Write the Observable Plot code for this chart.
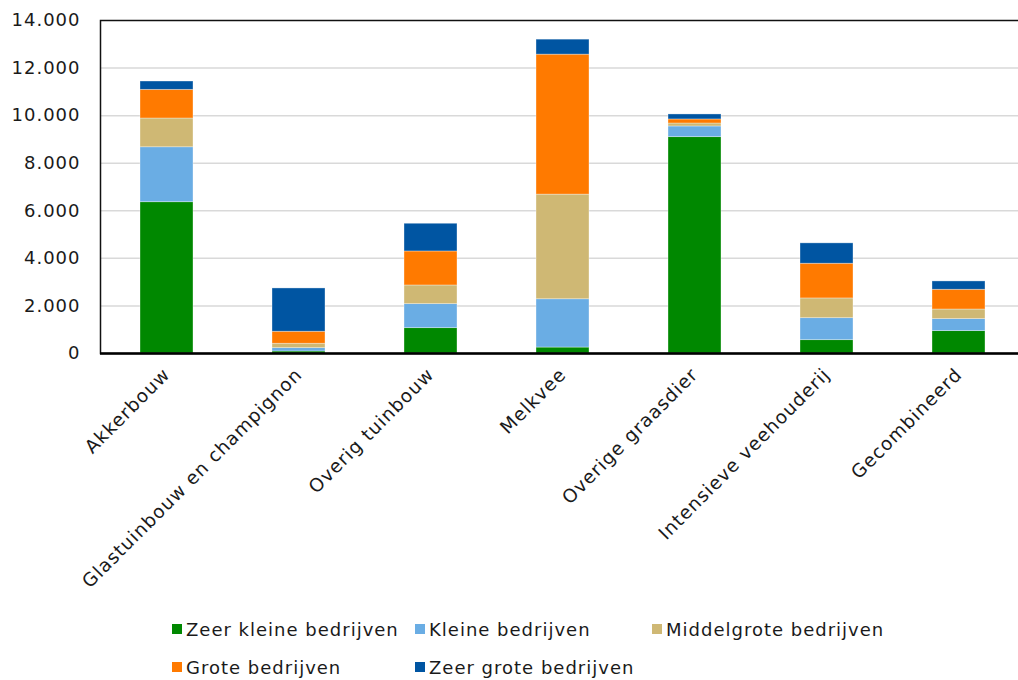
<!DOCTYPE html>
<html>
<head>
<meta charset="utf-8">
<script src="https://cdn.jsdelivr.net/npm/d3@7"></script>
<script src="https://cdn.jsdelivr.net/npm/@observablehq/plot@0.6"></script>
<style>
  html, body { margin: 0; padding: 0; background: #fff; overflow: hidden; width: 1018px; height: 680px; }
  #chart { position: absolute; left: 0; top: 0; width: 1024px; }
  #chart svg { max-width: none !important; width: 1024px !important; height: 600px !important; }
  #legend { position: absolute; left: 172px; top: 618px; display: grid;
    grid-template-columns: 243px 237px 240px; row-gap: 16px;
    font-family: "DejaVu Sans", Verdana, sans-serif; font-size: 18px; letter-spacing: 1px; color: #1a1a1a; }
  .item { display: flex; align-items: center; white-space: nowrap; height: 22px; }
  .sw { width: 10px; height: 10px; margin-right: 4px; flex: none; }
</style>
</head>
<body>
<div id="chart"></div>
<div id="legend"></div>
<script>
const categories = ["Akkerbouw", "Glastuinbouw en champignon", "Overig tuinbouw", "Melkvee", "Overige graasdier", "Intensieve veehouderij", "Gecombineerd"];
const seriesNames = ["Zeer kleine bedrijven", "Kleine bedrijven", "Middelgrote bedrijven", "Grote bedrijven", "Zeer grote bedrijven"];
const seriesColors = ["#008800", "#6aade4", "#cfb874", "#ff7a00", "#0055a2"];
const zeerKlein = [6360, 85, 1065, 250, 9095, 560, 940];
const klein = [2310, 140, 1010, 2030, 450, 925, 505];
const middelgroot = [1210, 185, 785, 4400, 125, 830, 405];
const groot = [1205, 505, 1430, 5885, 170, 1460, 830];
const zeerGroot = [350, 1820, 1165, 630, 210, 855, 350];
const yTicks = [0, 2000, 4000, 6000, 8000, 10000, 12000, 14000];

const seriesValues = [zeerKlein, klein, middelgroot, groot, zeerGroot];
const data = [];
seriesNames.forEach((s, si) => categories.forEach((c, ci) => data.push({category: c, series: s, value: seriesValues[si][ci]})));

const nl = d3.formatLocale({decimal: ",", thousands: ".", grouping: [3], currency: ["€", ""]});
const fmt = nl.format(",");

const chart = Plot.plot({
  width: 1024,
  height: 600,
  marginLeft: 100,
  marginRight: 0,
  marginTop: 20,
  marginBottom: 247,
  style: {fontFamily: "DejaVu Sans, Verdana, sans-serif", fontSize: "18px", letterSpacing: "1px", color: "#1a1a1a", background: "#fff"},
  x: {domain: categories, paddingInner: 0.6, paddingOuter: 0.3, label: null},
  y: {domain: [0, 14000], label: null},
  color: {domain: seriesNames, range: seriesColors},
  marks: [
    Plot.ruleY(yTicks.filter(d => d > 0 && d < 14000), {stroke: "#d9d9d9", strokeWidth: 1.5}),
    Plot.barY(data, {x: "category", y: "value", fill: "series", stroke: "#ffffff", strokeOpacity: 0.45, strokeWidth: 0.75}),
    Plot.frame({stroke: "#111", strokeWidth: 1.5}),
    Plot.ruleY([0], {stroke: "#000", strokeWidth: 2.5}),
    Plot.axisY({ticks: yTicks, tickFormat: fmt, tickSize: 0, tickPadding: 20, label: null}),
    Plot.axisX({tickSize: 0, tickRotate: -45, tickPadding: 18, fontSize: 18.5, label: null})
  ]
});
document.getElementById("chart").appendChild(chart);

const legend = document.getElementById("legend");
seriesNames.forEach((s, i) => {
  const item = document.createElement("div");
  item.className = "item";
  const sw = document.createElement("span");
  sw.className = "sw";
  sw.style.background = seriesColors[i];
  const t = document.createElement("span");
  t.textContent = s;
  item.appendChild(sw);
  item.appendChild(t);
  legend.appendChild(item);
});
</script>
</body>
</html>
